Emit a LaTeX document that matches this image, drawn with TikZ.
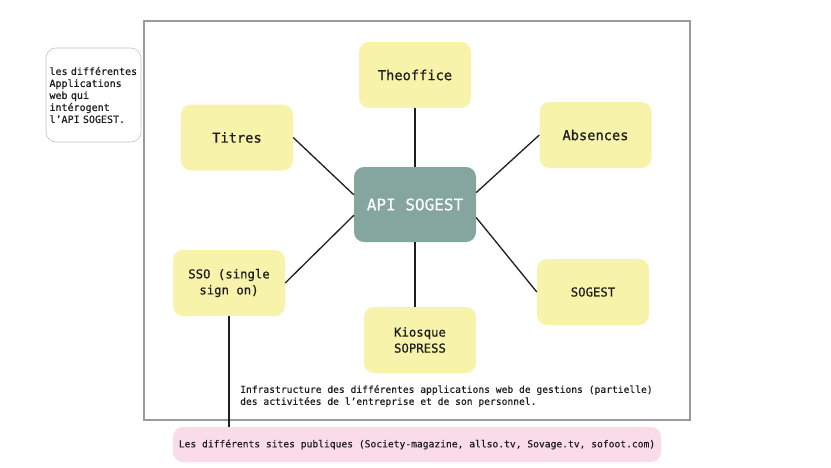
\documentclass[tikz,border=0pt]{standalone}
\usepackage{fontspec}
\setmainfont{DejaVu Sans Mono}
\newfontfamily\medfont{DejaVu Sans Mono}[FakeBold=0.7]
\newfontfamily\smfont{DejaVu Sans Mono}[FakeBold=0.5]
\definecolor{ybox}{HTML}{F8F3AA}
\definecolor{tbox}{HTML}{84A69E}
\definecolor{pbox}{HTML}{FADCE9}
\definecolor{ink}{HTML}{1E1E1E}
\definecolor{frame}{HTML}{9A9A9A}
\begin{document}
\begin{tikzpicture}[x=1pt,y=-1pt,
  app/.style={fill=ybox, rounded corners=10pt, minimum width=112pt, minimum height=66pt, inner sep=2pt, align=center, text=ink, font=\medfont\fontsize{13.7pt}{16pt}\selectfont},
  appsm/.style={app, font=\medfont\fontsize{12.3pt}{16pt}\selectfont},
  small/.style={text=ink, font=\smfont\fontsize{9.65pt}{12pt}\selectfont},
  link/.style={draw=ink, line width=1.3pt}]
\useasboundingbox (0,0) rectangle (831,467);
\fill[white] (0,0) rectangle (831,467);
% outer frame
\draw[frame, line width=1.2pt] (144,21) rectangle (690,420);
% note
\node[small, draw=frame!60, line width=0.6pt, rounded corners=10pt, minimum height=94pt, text width=88pt, inner xsep=3.5pt, align=left, font=\smfont\fontsize{10pt}{12pt}\selectfont] (note) at (93.5,95) {les différentes\\Applications\\web qui\\intérogent\\l’API SOGEST.};
% central node
\node[fill=tbox, rounded corners=10pt, minimum width=122pt, minimum height=75pt, text=white, font=\smfont\fontsize{16pt}{18pt}\selectfont] (api) at (415,204.5) {API SOGEST};
% apps
\node[app] (theo) at (415,75) {Theoffice};
\node[app] (titres) at (237,137.5) {Titres};
\node[app] (abs) at (595.5,135) {Absences};
\node[appsm] (sso) at (229,283) {SSO (single\\ sign on)};
\node[appsm] (kio) at (420,340) {Kiosque\\SOPRESS};
\node[appsm] (sog) at (593,292) {SOGEST};
% edges
\draw[link] (theo.south) -- (theo.south |- api.north);
\draw[link] (kio.north -| api.south) -- (api.south);
\draw[link] (titres.east) -- (api.171);
\draw[link] (abs.west) -- (api.11.6);
\draw[link] (sso.east) -- (api.190);
\draw[link] (sog.west) -- (api.348.4);
% caption
\node[small, anchor=west, align=left, inner sep=0pt] (cap) at (240,396) {Infrastructure des différentes applications web de gestions (partielle)\\des activitées de l’entreprise et de son personnel.};
% public sites
\node[small, fill=pbox, rounded corners=10pt, minimum width=488pt, minimum height=35pt] (pub) at (417,444.5) {Les différents sites publiques (Society-magazine, allso.tv, Sovage.tv, sofoot.com)};
\draw[link] (sso.south) -- (sso.south |- pub.north);
\end{tikzpicture}
\end{document}
